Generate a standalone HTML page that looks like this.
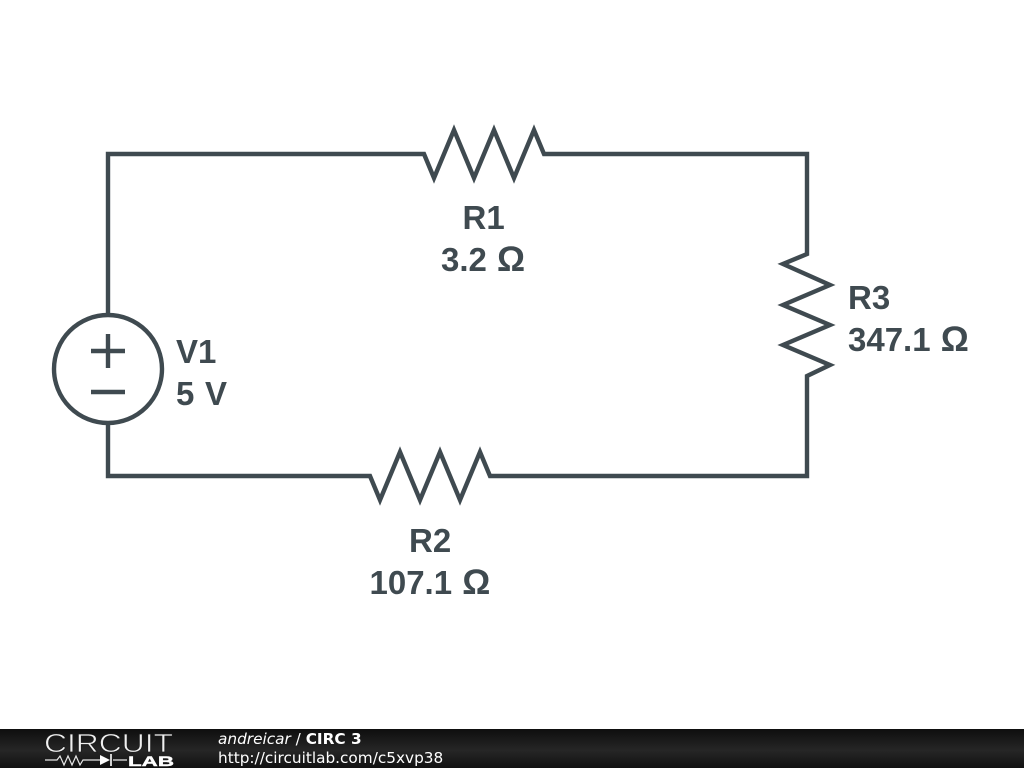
<!DOCTYPE html>
<html><head><meta charset="utf-8"><style>
html,body{margin:0;padding:0;background:#fff;width:1024px;height:768px;overflow:hidden}
svg{display:block;filter:blur(0.35px)}
.l{font-family:"Liberation Sans",sans-serif;font-weight:bold;font-size:33px;fill:#3f4a50}
.o{font-size:35px}
.f{font-family:"DejaVu Sans",sans-serif;font-size:15.3px;fill:#fff}
</style></head><body>
<svg width="1024" height="768" viewBox="0 0 1024 768" xmlns="http://www.w3.org/2000/svg">
<defs><linearGradient id="g" x1="0" y1="0" x2="0" y2="1"><stop offset="0" stop-color="#0e0e0e"/><stop offset="0.55" stop-color="#262626"/><stop offset="1" stop-color="#111"/></linearGradient></defs>
<g fill="none" stroke="#3f4a50" stroke-width="4.4" stroke-linejoin="miter">
<path d="M108 315V154H424L434 178L454 130L474 178L494 130L514 178L534 130L544 154H807V254L783 264L830 285L783 305L830 325L783 345L830 365L807 376V476H490L480 452L460 500L440 452L420 500L400 452L380 500L370 476H108V423"/>
<circle cx="108" cy="369" r="54"/>
<path d="M91 351H125M108 334V368M91 392H125"/>
</g>
<text class="l" x="462.5" y="229">R1</text>
<text class="l" x="441" y="271">3.2 <tspan class="o" dx="1">Ω</tspan></text>
<text class="l" x="409" y="552">R2</text>
<text class="l" x="369.5" y="594">107.1 <tspan class="o" dx="1">Ω</tspan></text>
<text class="l" x="848" y="309">R3</text>
<text class="l" x="848" y="351">347.1 <tspan class="o" dx="1">Ω</tspan></text>
<text class="l" x="176" y="363">V1</text>
<text class="l" x="176" y="405" textLength="51">5 V</text>
<rect x="0" y="729" width="1024" height="39" fill="url(#g)"/>
<text x="44" y="752" font-family="'Liberation Sans',sans-serif" font-size="26" fill="#f0f0f0" stroke="#1c1c1c" stroke-width="0.7" textLength="129" lengthAdjust="spacingAndGlyphs">CIRCUIT</text>
<path d="M45 760H57L60 756L64 765L68 756L72 765L76 756L80 765L83 760H100M113 760H127" fill="none" stroke="#e8e8e8" stroke-width="1.2"/>
<path d="M100 755L110 760L100 765Z" fill="#fff"/>
<path d="M111 754V766" stroke="#fff" stroke-width="1.6"/>
<text x="128" y="766" font-family="'Liberation Sans',sans-serif" font-weight="bold" font-size="14" fill="#fff" stroke="#fff" stroke-width="0.4" textLength="46" lengthAdjust="spacingAndGlyphs">LAB</text>
<text class="f" x="218" y="744"><tspan font-style="italic">andreicar</tspan> / <tspan font-weight="bold">CIRC 3</tspan></text>
<text class="f" x="218" y="763">http://circuitlab.com/c5xvp38</text>
</svg>
</body></html>
